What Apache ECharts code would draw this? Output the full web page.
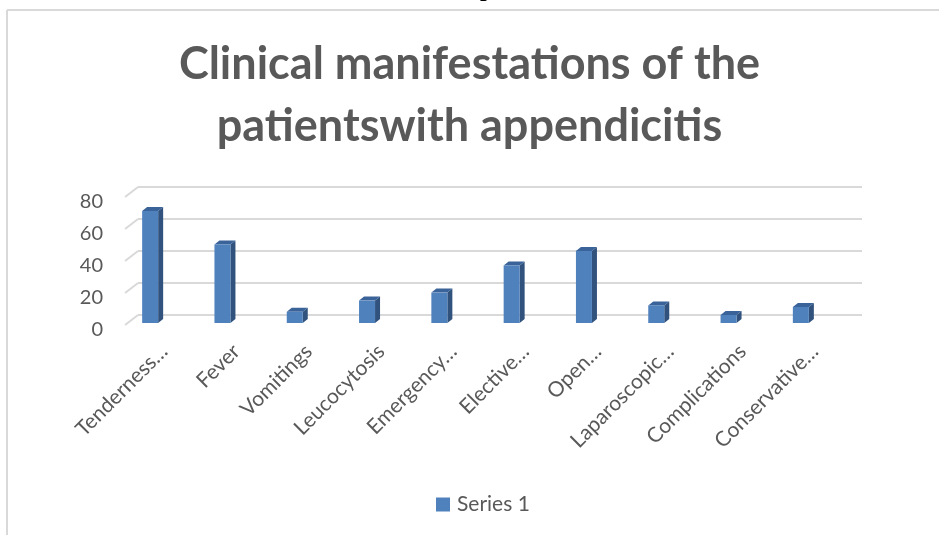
<!DOCTYPE html>
<html>
<head>
<meta charset="utf-8">
<script src="https://cdn.jsdelivr.net/npm/echarts@6/dist/echarts.min.js"></script>
<style>
  html, body { margin: 0; padding: 0; background: #fff; }
  #chart { width: 939px; height: 535px; }
</style>
</head>
<body>
<div id="chart"></div>
<script>
// data
var categories = ['Tenderness…', 'Fever', 'Vomitings', 'Leucocytosis', 'Emergency…',
                  'Elective…', 'Open…', 'Laparoscopic…', 'Complications', 'Conservative…'];
var series1 = [70, 49, 7, 14, 19, 36, 45, 11, 5, 10];
var yTicks = [0, 20, 40, 60, 80];

var myChart = echarts.init(document.getElementById('chart'));

var txt = '#595959';
var grey = '#d9d9d9';

// fake 3D column: front face, side and top
function renderBar(params, api) {
    var top = api.coord([api.value(0), api.value(1)]);
    var base = api.coord([api.value(0), 0]);
    var w = 16, dx = 5, dy = 4;
    var x0 = top[0] - w / 2;
    var yt = top[1], yb = base[1];
    return {
        type: 'group',
        children: [
            {type: 'polygon', shape: {points: [[x0 + w, yt], [x0 + w + dx, yt - dy], [x0 + w + dx, yb - dy], [x0 + w, yb]]},
             style: {fill: '#30527d'}},
            {type: 'polygon', shape: {points: [[x0, yt], [x0 + dx, yt - dy], [x0 + w + dx, yt - dy], [x0 + w, yt]]},
             style: {fill: '#3a6399'}},
            {type: 'rect', shape: {x: x0, y: yt, width: w, height: yb - yt},
             style: {fill: '#4f81bd'}}
        ]
    };
}

// little slanted lines on the left wall
function renderWall(params, api) {
    var p = api.coord([0, api.value(0)]);
    return {
        type: 'line',
        shape: {x1: p[0] - 13, y1: p[1] + 10, x2: p[0], y2: p[1]},
        style: {stroke: grey, lineWidth: 2}
    };
}

var option = {
    backgroundColor: '#fff',
    animation: false,
    title: {
        text: 'Clinical manifestations of the\npatientswith appendicitis',
        left: 'center',
        top: 28,
        textStyle: {fontFamily: 'Lato', fontWeight: 'bold', fontSize: 45, color: txt, lineHeight: 62}
    },
    legend: {
        bottom: 15,
        left: 431,
        icon: 'rect',
        itemWidth: 14,
        itemHeight: 14,
        itemGap: 4,
        textStyle: {fontFamily: 'Lato', fontSize: 21, color: txt, padding: [0, 0, 0, 2]},
        data: ['Series 1']
    },
    graphic: [
        {type: 'line', shape: {x1: 7, y1: 10, x2: 939, y2: 10}, style: {stroke: grey, lineWidth: 2}},
        {type: 'line', shape: {x1: 7, y1: 10, x2: 7, y2: 535}, style: {stroke: grey, lineWidth: 2}},
        {type: 'text', left: 480, top: -22, style: {text: 'p', font: 'bold 24px "Liberation Serif"', fill: '#000'}}
    ],
    grid: [
        {left: 138, right: 77, top: 187, bottom: 220},
        {left: 114, right: 102, top: 195, bottom: 212},
        {left: 128, right: 88, top: 195, bottom: 212}
    ],
    xAxis: [
        {gridIndex: 0, type: 'value', min: 0, max: 1, show: false},
        {gridIndex: 1, type: 'category', data: categories,
         axisLine: {show: false}, axisTick: {show: false}, axisLabel: {show: false}},
        {gridIndex: 2, type: 'category', data: categories,
         axisLine: {show: false}, axisTick: {show: false},
         axisLabel: {rotate: 45, interval: 0, margin: 25, fontFamily: 'Lato', fontSize: 21, color: txt}}
    ],
    yAxis: [
        {gridIndex: 0, type: 'value', min: 0, max: 80, interval: 20,
         axisLabel: {show: false}, axisLine: {show: false}, axisTick: {show: false},
         splitLine: {lineStyle: {color: grey, width: 2}}},
        {gridIndex: 1, type: 'value', min: 0, max: 80, interval: 20,
         axisLine: {show: false}, axisTick: {show: false}, splitLine: {show: false},
         axisLabel: {margin: 11, fontFamily: 'Lato', fontSize: 20, color: txt,
                     verticalAlign: 'top', lineHeight: 14}},
        {gridIndex: 2, type: 'value', min: 0, max: 80, show: false}
    ],
    series: [
        {type: 'custom', xAxisIndex: 0, yAxisIndex: 0, renderItem: renderWall, data: yTicks, silent: true},
        {name: 'Series 1', type: 'custom', xAxisIndex: 1, yAxisIndex: 1, renderItem: renderBar,
         itemStyle: {color: '#4f81bd'},
         encode: {x: 0, y: 1},
         data: series1.map(function (v, i) { return [i, v]; })}
    ]
};
myChart.setOption(option);
</script>
</body>
</html>
